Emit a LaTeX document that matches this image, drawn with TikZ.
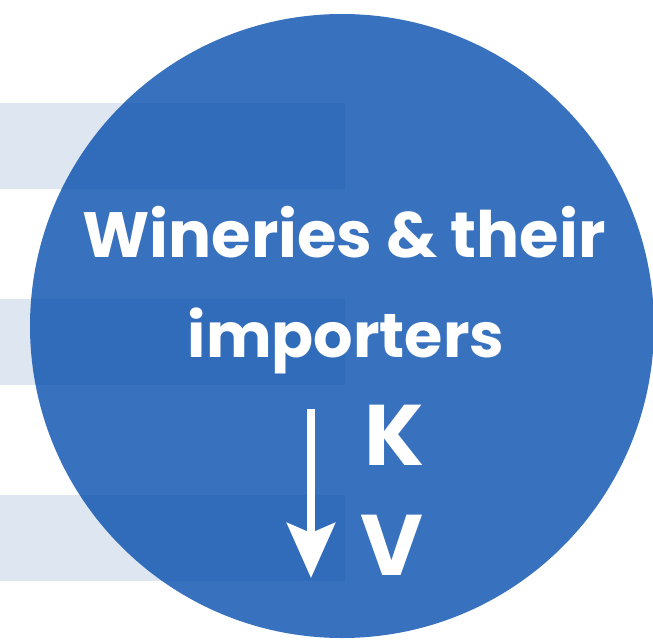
\documentclass[tikz,border=0pt]{standalone}
\usepackage{fontspec}
\setmainfont{Poppins}
\usetikzlibrary{arrows.meta}
\definecolor{discblue}{RGB}{56,114,191}
\definecolor{bandblue}{RGB}{0,70,151}
\tikzset{
    band/.style={fill=bandblue, fill opacity=0.135},
    headline/.style={text=white, font=\fontsize{64}{64}\selectfont\bfseries, anchor=base, inner sep=0pt},
    letter/.style={text=white, font=\fontsize{86}{86}\selectfont\bfseries, inner sep=0pt},
}
\begin{document}
\begin{tikzpicture}[x=1pt, y=-1pt]
            \useasboundingbox (0,0) rectangle (653,642);
            \clip (0,0) rectangle (653,642);
            \fill[discblue] (342,326) circle (312);
            \foreach \top in {103,299,495}
                \fill[band] (0,\top) rectangle (345,\top+86);
            \node[headline] (title1) at (344,257) {Wineries \& their};
            \node[headline, font=\fontsize{62}{62}\selectfont\bfseries] (title2) at (346,357) {importers};
            \node[letter] (keyK) at (394,435) {K};
            \node[letter] (keyV) at (392,545) {V};
            \coordinate (arrtop) at (311,409);
            \coordinate (arrtip) at (311,578);
            \draw[white, line width=8pt, -{Stealth[length=55pt, width=48pt, inset=10pt]}] (arrtop) -- (arrtip);
        \end{tikzpicture}
\end{document}
